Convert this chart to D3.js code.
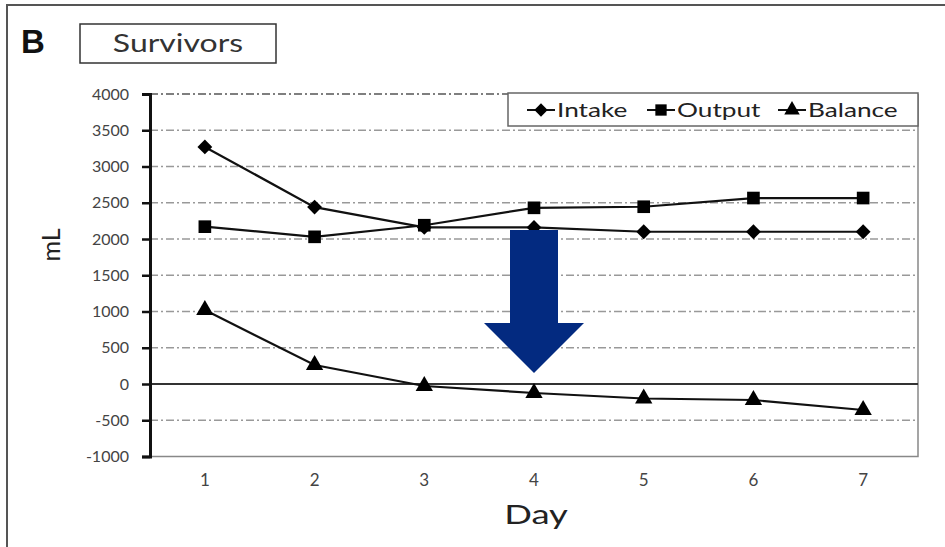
<!DOCTYPE html>
<html>
<head>
<meta charset="utf-8">
<script src="https://cdn.jsdelivr.net/npm/d3@7"></script>
<style>
  body { margin: 0; background: #fff; }
  text { font-family: Lato, "Open Sans", sans-serif; }
</style>
</head>
<body>
<div id="chart"></div>
<script>
var width = 945;
var height = 547;

// data
var days = [1, 2, 3, 4, 5, 6, 7];
var intake = [3270, 2440, 2160, 2160, 2100, 2100, 2100];
var output = [2170, 2030, 2190, 2430, 2445, 2565, 2565];
var balance = [1020, 262, -28, -124, -200, -221, -359];
var yTicks = [-1000, -500, 0, 500, 1000, 1500, 2000, 2500, 3000, 3500, 4000];
var seriesNames = ["Intake", "Output", "Balance"];
var seriesSymbols = ["diamond", "square", "triangle"];

var plotLeft = 150, plotRight = 918, plotTop = 94, plotBottom = 456.5;

var svg = d3.select("#chart").append("svg")
    .attr("width", width)
    .attr("height", height);

// outer figure frame
svg.append("path")
    .attr("d", "M7,547 L7,5 L945,5")
    .attr("fill", "none")
    .attr("stroke", "#555")
    .attr("stroke-width", 2);

svg.append("text")
    .attr("x", 21)
    .attr("y", 53)
    .style("font-family", "'Liberation Sans', Arial, sans-serif")
    .style("font-weight", "bold")
    .style("font-size", "33px")
    .attr("fill", "#111")
    .text("B");

svg.append("rect")
    .attr("x", 80).attr("y", 24)
    .attr("width", 196).attr("height", 39)
    .attr("fill", "#fff")
    .attr("stroke", "#333")
    .attr("stroke-width", 1.5);
svg.append("text")
    .attr("transform", "translate(178,52) scale(1.28,1)")
    .attr("text-anchor", "middle")
    .style("font-size", "25px")
    .attr("fill", "#333")
    .text("Survivors");

var x = d3.scaleBand().domain(days).range([plotLeft, plotRight]).padding(0);
var y = d3.scaleLinear().domain([-1000, 4000]).range([plotBottom, plotTop]);
function cx(d) { return x(d) + x.bandwidth() / 2; }

// grid lines (dash-dot)
svg.append("g")
    .selectAll("line")
    .data(yTicks.filter(function(t){ return t !== 0 && t !== -1000; }))
    .enter()
    .append("line")
    .attr("x1", plotLeft).attr("x2", plotRight)
    .attr("y1", function(d){ return y(d); })
    .attr("y2", function(d){ return y(d); })
    .attr("stroke", function(d){ return d === 4000 ? "#555" : "#999"; })
    .attr("stroke-width", 1.5)
    .attr("stroke-dasharray", "8,3,2,3");

// right and bottom plot border
svg.append("path")
    .attr("d", "M" + plotRight + "," + plotTop + " L" + plotRight + "," + plotBottom + " L" + plotLeft + "," + plotBottom)
    .attr("fill", "none")
    .attr("stroke", "#888")
    .attr("stroke-width", 1.5);

// zero line
svg.append("line")
    .attr("x1", plotLeft).attr("x2", plotRight)
    .attr("y1", y(0)).attr("y2", y(0))
    .attr("stroke", "#333")
    .attr("stroke-width", 2);

// y axis
var yAxis = svg.append("g")
    .attr("transform", "translate(" + plotLeft + ",0)")
    .call(d3.axisLeft(y).tickValues(yTicks).tickSize(8).tickPadding(13)
        .tickFormat(function(d){ return String(d); }));
yAxis.select(".domain").attr("stroke", "#111").attr("stroke-width", 3);
yAxis.selectAll(".tick line").attr("stroke", "#111").attr("stroke-width", 2.5);
yAxis.selectAll("text")
    .style("font-family", "Lato, sans-serif")
    .style("font-size", "16px")
    .attr("fill", "#444");

// x axis labels
var xAxis = svg.append("g")
    .attr("transform", "translate(0," + plotBottom + ")")
    .call(d3.axisBottom(x).tickSize(0).tickPadding(17));
xAxis.select(".domain").remove();
xAxis.selectAll("text")
    .style("font-family", "Lato, sans-serif")
    .style("font-size", "17px")
    .attr("fill", "#444");

svg.append("text")
    .attr("transform", "translate(536,524) scale(1.35,1)")
    .attr("text-anchor", "middle")
    .style("font-size", "27px")
    .attr("fill", "#222")
    .text("Day");

svg.append("text")
    .attr("transform", "translate(60,245) rotate(-90)")
    .attr("text-anchor", "middle")
    .style("font-size", "25px")
    .attr("fill", "#222")
    .text("mL");

// series
var symbolTypes = { diamond: d3.symbolSquare, square: d3.symbolSquare, triangle: d3.symbolTriangle };
var symbolSizes = { diamond: 110, square: 160, triangle: 130 };
var symbolRotate = { diamond: 45, square: 0, triangle: 0 };
var allSeries = [intake, output, balance];
var line = d3.line()
    .x(function(d, i){ return cx(days[i]); })
    .y(function(d){ return y(d); });

allSeries.forEach(function(vals, k) {
    var s = seriesSymbols[k];
    svg.append("path")
        .datum(vals)
        .attr("d", line)
        .attr("fill", "none")
        .attr("stroke", "#111")
        .attr("stroke-width", 2.2);
    svg.append("g")
        .selectAll("path")
        .data(vals)
        .enter()
        .append("path")
        .attr("transform", function(d, i){
            return "translate(" + cx(days[i]) + "," + y(d) + ") rotate(" + symbolRotate[s] + ")";
        })
        .attr("d", d3.symbol().type(symbolTypes[s]).size(symbolSizes[s]))
        .attr("fill", "#000");
});

// legend
var legend = svg.append("g");
legend.append("rect")
    .attr("x", 508).attr("y", 93)
    .attr("width", 410).attr("height", 33)
    .attr("fill", "#fff")
    .attr("stroke", "#666")
    .attr("stroke-width", 1.5);
var legendX = [527, 647, 778];
seriesNames.forEach(function(name, k) {
    var lx = legendX[k];
    var s = seriesSymbols[k];
    legend.append("line")
        .attr("x1", lx).attr("x2", lx + 28)
        .attr("y1", 110).attr("y2", 110)
        .attr("stroke", "#111").attr("stroke-width", 2);
    legend.append("path")
        .attr("transform", "translate(" + (lx + 14) + ",110) rotate(" + symbolRotate[s] + ")")
        .attr("d", d3.symbol().type(symbolTypes[s]).size(symbolSizes[s] * 0.8))
        .attr("fill", "#000");
    legend.append("text")
        .attr("transform", "translate(" + (lx + 30) + ",117) scale(1.38,1)")
        .style("font-size", "19px")
        .attr("fill", "#222")
        .text(name);
});

// down arrow at day 4
var ax = cx(4);
var shaftTop = y(2124), headTop = y(841), tip = y(152);
svg.append("path")
    .attr("d", "M" + (ax - 24) + "," + shaftTop +
               " L" + (ax + 24) + "," + shaftTop +
               " L" + (ax + 24) + "," + headTop +
               " L" + (ax + 50) + "," + headTop +
               " L" + ax + "," + tip +
               " L" + (ax - 50) + "," + headTop +
               " L" + (ax - 24) + "," + headTop + " Z")
    .attr("fill", "#032a80");
</script>
</body>
</html>
